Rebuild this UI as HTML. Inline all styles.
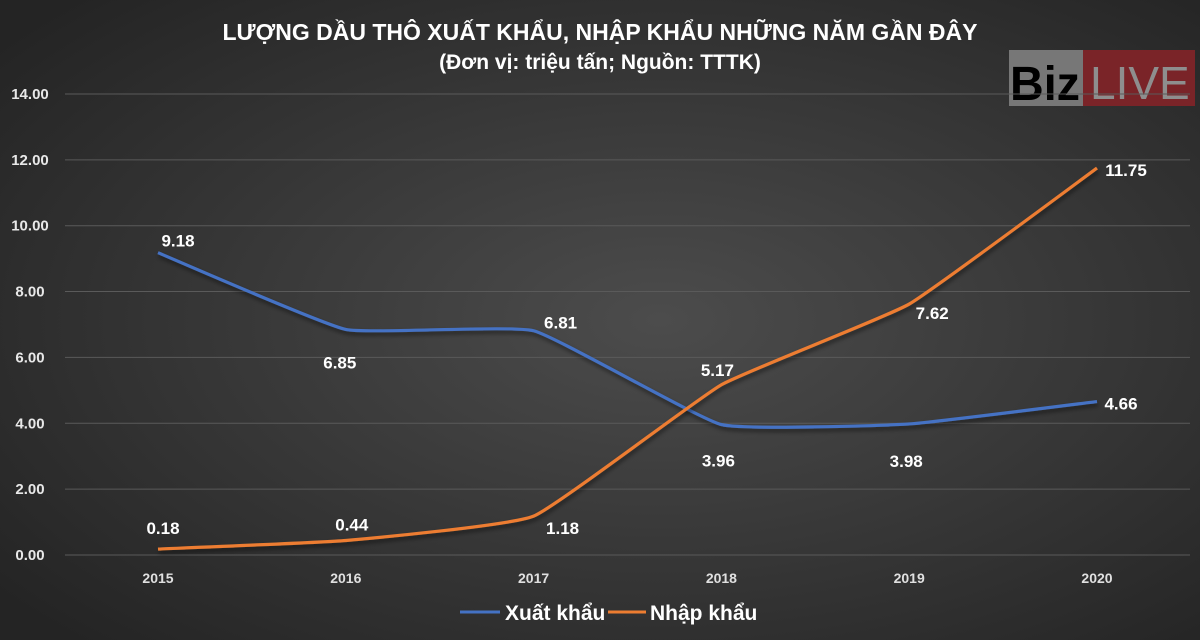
<!DOCTYPE html>
<html><head><meta charset="utf-8"><style>
body{margin:0;width:1200px;height:640px;overflow:hidden;font-family:"Liberation Sans","DejaVu Sans",sans-serif}
svg{display:block}
text{font-family:"Liberation Sans","DejaVu Sans",sans-serif;font-weight:bold}
</style></head><body>
<svg id="chart" width="1200" height="640">
<defs><radialGradient id="bg" cx="55%" cy="50%" r="70%"><stop offset="0" stop-color="#4c4c4c"/><stop offset="1" stop-color="#242424"/></radialGradient>
<filter id="sh"><feDropShadow dx="1" dy="3" stdDeviation="2" flood-color="#000" flood-opacity="0.5"/></filter></defs>
<rect width="1200" height="640" fill="url(#bg)"/>
<text x="600" y="40" text-anchor="middle" font-size="23" fill="#fff">LƯỢNG DẦU THÔ XUẤT KHẨU, NHẬP KHẨU NHỮNG NĂM GẦN ĐÂY</text>
<text x="600" y="69" text-anchor="middle" font-size="21" fill="#fff">(Đơn vị: triệu tấn; Nguồn: TTTK)</text>
<g>
<rect x="1009" y="50" width="84" height="56" fill="#777"/><rect x="1083" y="50" width="112" height="56" fill="#7a2428"/>
<text x="1010" y="100" font-size="48" fill="#000" textLength="70" lengthAdjust="spacingAndGlyphs">Biz</text>
<text x="1090" y="99" font-size="46" fill="#8e8e8e" style="font-weight:normal">LIVE</text></g>
<g id="grid"></g><g id="lines"></g><g id="labels"></g>
<g>
<line x1="460" y1="612" x2="500" y2="612" stroke="#4472c4" stroke-width="3"/>
<text x="505" y="620" font-size="21" fill="#fff">Xuất khẩu</text>
<line x1="608" y1="612" x2="646" y2="612" stroke="#ed7d31" stroke-width="3"/>
<text x="650" y="620" font-size="21" fill="#fff">Nhập khẩu</text></g>
</svg>
<script>
const years=["2015","2016","2017","2018","2019","2020"];
const exportVals=[9.18,6.85,6.81,3.96,3.98,4.66];
const importVals=[0.18,0.44,1.18,5.17,7.62,11.75];
const yTicks=[0,2,4,6,8,10,12,14];
const exportOff=[[20,-12],[-6,33],[27,-8],[-3,36],[-3,37],[24,2]];
const importOff=[[5,-21],[6,-16],[29,12],[-4,-15],[23,9],[29,2]];
const NS="http://www.w3.org/2000/svg";
const X=i=>158+i*187.8, Y=v=>555-v*32.93;
function mk(t,a,p){const e=document.createElementNS(NS,t);for(const k in a)e.setAttribute(k,a[k]);p.appendChild(e);return e;}
const grid=document.getElementById('grid'),lines=document.getElementById('lines'),labels=document.getElementById('labels');
yTicks.forEach(v=>{
 const l=mk('line',{x1:65,x2:1190,y1:Y(v),y2:Y(v),stroke:'#5a5a5a','stroke-width':1},grid);
 
 
 const t=mk('text',{x:30,y:Y(v)+5,'text-anchor':'middle','font-size':15,fill:'#e8e8e8'},grid);
 t.textContent=v.toFixed(2);
 
 
});
years.forEach((y,i)=>{
 const t=mk('text',{x:X(i),y:583,'text-anchor':'middle','font-size':14,fill:'#e0e0e0'},grid);
 t.textContent=y;
 
 
});
function path(vals){
 const p=vals.map((v,i)=>[X(i),Y(v)]);let d='M'+p[0];
 for(let i=0;i<p.length-1;i++){
  const p0=p[i-1]||p[i],p1=p[i],p2=p[i+1],p3=p[i+2]||p2,k=0.06;
  d+=' C'+(p1[0]+(p2[0]-p0[0])*k)+','+(p1[1]+(p2[1]-p0[1])*k)+' '+(p2[0]-(p3[0]-p1[0])*k)+','+(p2[1]-(p3[1]-p1[1])*k)+' '+p2;
 }return d;}
function series(vals,off,color,name){
 const pa=mk('path',{d:path(vals),fill:'none',stroke:color,'stroke-width':3.2,filter:'url(#sh)'},lines);
 
 
 vals.forEach((v,i)=>{
  const t=mk('text',{x:X(i)+off[i][0],y:Y(v)+off[i][1]+6,'text-anchor':'middle','font-size':17,fill:'#fff'},labels);
  t.textContent=v.toFixed(2);
  
  
 });
}
series(exportVals,exportOff,'#4472c4','export');
series(importVals,importOff,'#ed7d31','import');
</script>
</body></html>
